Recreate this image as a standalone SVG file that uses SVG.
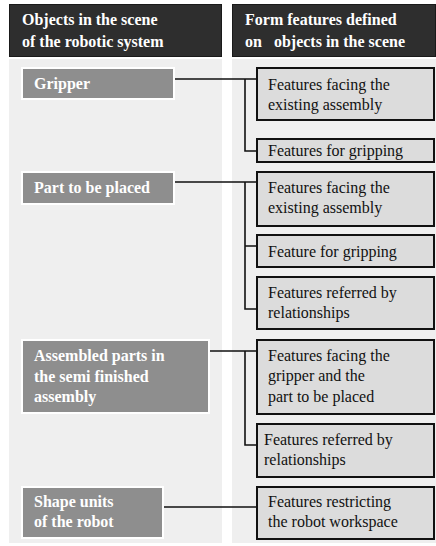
<svg xmlns="http://www.w3.org/2000/svg" width="436" height="546" viewBox="0 0 436 546" font-family="Liberation Serif, Times New Roman, DejaVu Serif, serif" font-size="16">
  <style>
    .hdr { fill: #2e2e2e; stroke: #1a1a1a; stroke-width: 1; }
    .col { fill: #efefef; }
    .obj { fill: #8e8e8e; stroke: #ffffff; stroke-width: 2; }
    .feat { fill: #dcdcdc; stroke: #111111; stroke-width: 2; }
    .ht { font-weight: bold; fill: #ffffff; }
    .ot { font-weight: bold; fill: #ffffff; }
    .ft { fill: #111111; }
    .link { fill: none; stroke: #111111; stroke-width: 1.6; }
  </style>
  <rect width="436" height="546" fill="#ffffff"/>

  <!-- column backgrounds -->
  <rect class="col" x="9" y="59" width="213" height="484"/>
  <rect class="col" x="232" y="59" width="204" height="484"/>

  <!-- column headers -->
  <g id="header-objects">
    <rect class="hdr" x="9.5" y="4.5" width="212" height="52"/>
    <text class="ht" x="22" y="25">Objects in the scene</text>
    <text class="ht" x="22" y="47">of the robotic system</text>
  </g>
  <g id="header-features">
    <rect class="hdr" x="232.5" y="4.5" width="203" height="52"/>
    <text class="ht" x="245" y="25">Form features defined</text>
    <text class="ht" x="245" y="47" xml:space="preserve">on   objects in the scene</text>
  </g>

  <!-- connectors -->
  <g id="connectors">
    <path class="link" d="M174,79 H257 M245,79 V151 H257"/>
    <path class="link" d="M174,182 H257 M245,182 V309 H257 M245,246 H257"/>
    <path class="link" d="M209,351 H257 M245,351 V445 H257"/>
    <path class="link" d="M163,507 H257"/>
  </g>

  <!-- scene objects -->
  <g id="obj-gripper">
    <rect class="obj" x="22" y="68" width="152" height="31"/>
    <text class="ot" x="34" y="89">Gripper</text>
  </g>
  <g id="obj-part">
    <rect class="obj" x="22" y="172" width="152" height="32"/>
    <text class="ot" x="34" y="193">Part to be placed</text>
  </g>
  <g id="obj-assembled">
    <rect class="obj" x="22" y="340" width="187" height="73"/>
    <text class="ot" x="34" y="361">Assembled parts in</text>
    <text class="ot" x="34" y="382">the semi finished</text>
    <text class="ot" x="34" y="402">assembly</text>
  </g>
  <g id="obj-robot">
    <rect class="obj" x="22" y="487" width="141" height="51"/>
    <text class="ot" x="34" y="507">Shape units</text>
    <text class="ot" x="34" y="527">of the robot</text>
  </g>

  <!-- form features -->
  <g id="feat-gripper-facing">
    <rect class="feat" x="257" y="68" width="177" height="52"/>
    <text class="ft" x="268" y="90">Features facing the</text>
    <text class="ft" x="268" y="110">existing assembly</text>
  </g>
  <g id="feat-gripper-gripping">
    <rect class="feat" x="257" y="139" width="177" height="23"/>
    <text class="ft" x="268" y="156">Features for gripping</text>
  </g>
  <g id="feat-part-facing">
    <rect class="feat" x="257" y="172" width="177" height="54"/>
    <text class="ft" x="268" y="193">Features facing the</text>
    <text class="ft" x="268" y="213">existing assembly</text>
  </g>
  <g id="feat-part-gripping">
    <rect class="feat" x="257" y="235" width="177" height="32"/>
    <text class="ft" x="268" y="257">Feature for gripping</text>
  </g>
  <g id="feat-part-relations">
    <rect class="feat" x="257" y="277" width="177" height="52"/>
    <text class="ft" x="268" y="298">Features referred by</text>
    <text class="ft" x="268" y="318">relationships</text>
  </g>
  <g id="feat-assembled-facing">
    <rect class="feat" x="257" y="340" width="177" height="74"/>
    <text class="ft" x="268" y="361">Features facing the</text>
    <text class="ft" x="268" y="381">gripper and the</text>
    <text class="ft" x="268" y="402">part to be placed</text>
  </g>
  <g id="feat-assembled-relations">
    <rect class="feat" x="257" y="424" width="177" height="53"/>
    <text class="ft" x="264" y="445">Features referred by</text>
    <text class="ft" x="264" y="465">relationships</text>
  </g>
  <g id="feat-robot-workspace">
    <rect class="feat" x="257" y="487" width="177" height="52"/>
    <text class="ft" x="268" y="507">Features restricting</text>
    <text class="ft" x="268" y="527">the robot workspace</text>
  </g>
</svg>
